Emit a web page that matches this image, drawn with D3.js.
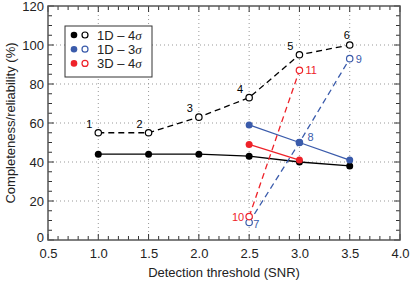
<!DOCTYPE html>
<html>
<head>
<meta charset="utf-8">
<script src="https://cdn.jsdelivr.net/npm/d3@7"></script>
<style>
  body { margin: 0; background: #fff; }
  text { font-family: "Liberation Sans", Arial, sans-serif; }
</style>
</head>
<body>
<div id="chart"></div>
<script>
var width  = 412;
var height = 282;

// data
var snr = [1.0, 1.5, 2.0, 2.5, 3.0, 3.5];
var rel1D4 = [55, 55, 63, 73, 95, 100];      // open, dashed
var comp1D4 = [44, 44, 44, 43, 40, 38];      // filled, solid
var labels1D4 = ["1", "2", "3", "4", "5", "6"];

var snr3 = [2.5, 3.0, 3.5];
var rel1D3 = [9, 50, 93];
var comp1D3 = [59, 50, 41];
var labels1D3 = ["7", "8", "9"];

var snr3D = [2.5, 3.0];
var rel3D4 = [12, 87];
var comp3D4 = [49, 41];
var labels3D4 = ["10", "11"];

var legendNames = ["1D \u2013 4", "1D \u2013 3", "3D \u2013 4"];
var xTicks = [0.5, 1.0, 1.5, 2.0, 2.5, 3.0, 3.5, 4.0];
var yTicks = [0, 20, 40, 60, 80, 100, 120];

var black = "#000", blue = "#3a5bab", red = "#ee2229";

var svg = d3.select("#chart").append("svg")
  .attr("width", width)
  .attr("height", height);

var x = d3.scaleLinear().domain([0.5, 4.0]).range([48, 400]);
var y = d3.scaleLinear().domain([0, 120]).range([240, 6]);

// grid
svg.selectAll(".gx").data(xTicks.slice(1, -1)).enter().append("line")
  .attr("x1", d => x(d)).attr("x2", d => x(d))
  .attr("y1", y(0)).attr("y2", y(120))
  .attr("stroke", "#999").attr("stroke-dasharray", "1,3");
svg.selectAll(".gy").data(yTicks.slice(1, -1)).enter().append("line")
  .attr("y1", d => y(d)).attr("y2", d => y(d))
  .attr("x1", x(0.5)).attr("x2", x(4.0))
  .attr("stroke", "#999").attr("stroke-dasharray", "1,3");

// minor / major ticks inside on all 4 sides
var xMinor = d3.range(5, 41).map(d => d / 10);
var yMinor = d3.range(0, 121, 5);
var tickCol = "#333";
xMinor.forEach(function(d) {
  var len = (Math.round(d * 10) % 5 === 0) ? 6 : 4;
  svg.append("line").attr("x1", x(d)).attr("x2", x(d))
    .attr("y1", y(0)).attr("y2", y(0) - len).attr("stroke", tickCol);
  svg.append("line").attr("x1", x(d)).attr("x2", x(d))
    .attr("y1", y(120)).attr("y2", y(120) + len).attr("stroke", tickCol);
});
yMinor.forEach(function(d) {
  var len = (d % 20 === 0) ? 6 : 4;
  svg.append("line").attr("y1", y(d)).attr("y2", y(d))
    .attr("x1", x(0.5)).attr("x2", x(0.5) + len).attr("stroke", tickCol);
  svg.append("line").attr("y1", y(d)).attr("y2", y(d))
    .attr("x1", x(4.0)).attr("x2", x(4.0) - len).attr("stroke", tickCol);
});

// frame
svg.append("rect")
  .attr("x", x(0.5)).attr("y", y(120))
  .attr("width", x(4.0) - x(0.5)).attr("height", y(0) - y(120))
  .attr("fill", "none").attr("stroke", "#555").attr("stroke-width", 1.5);

// axes labels via d3 axes (no lines)
var xAxis = svg.append("g").attr("transform", "translate(0," + y(0) + ")")
  .call(d3.axisBottom(x).tickValues(xTicks).tickFormat(d3.format(".1f")).tickSize(0).tickPadding(9));
var yAxis = svg.append("g").attr("transform", "translate(" + x(0.5) + ",0)")
  .call(d3.axisLeft(y).tickValues(yTicks).tickSize(0).tickPadding(4));
[xAxis, yAxis].forEach(function(g) {
  g.select(".domain").remove();
  g.selectAll("text").attr("font-size", 13).attr("fill", "#222")
    .attr("font-family", "Liberation Sans, Arial, sans-serif");
});
// the "0" sits just above the corner
yAxis.selectAll("text").filter(d => d === 0).attr("dy", "0.1em");

svg.append("text").attr("x", 224).attr("y", 277)
  .attr("text-anchor", "middle").attr("font-size", 13).attr("fill", "#222")
  .text("Detection threshold (SNR)");
svg.append("text")
  .attr("transform", "translate(15,123) rotate(-90)")
  .attr("text-anchor", "middle").attr("font-size", 13).attr("fill", "#222")
  .text("Completeness/reliability (%)");

var lineFn = function(xs) {
  return d3.line().x((d, i) => x(xs[i])).y(d => y(d));
};

function drawLines(xs, rel, comp, color) {
  svg.append("path").datum(comp).attr("d", lineFn(xs))
    .attr("fill", "none").attr("stroke", color).attr("stroke-width", 1.3);
  svg.append("path").datum(rel).attr("d", lineFn(xs))
    .attr("fill", "none").attr("stroke", color).attr("stroke-width", 1.3)
    .attr("stroke-dasharray", "6,4");
}

function drawOpen(xs, rel, labels, color, labelPos) {
  svg.selectAll(null).data(rel).enter().append("circle")
    .attr("cx", (d, i) => x(xs[i])).attr("cy", d => y(d)).attr("r", 3.2)
    .attr("fill", "#fff").attr("stroke", color).attr("stroke-width", 1.2);
  svg.selectAll(null).data(rel).enter().append("text")
    .attr("x", (d, i) => x(xs[i]) + labelPos[i][0])
    .attr("y", (d, i) => y(d) + labelPos[i][1])
    .attr("font-size", 11).attr("fill", color)
    .attr("text-anchor", (d, i) => labelPos[i][2] || "start")
    .text((d, i) => labels[i]);
}

function drawFilled(xs, comp, color) {
  svg.selectAll(null).data(comp).enter().append("circle")
    .attr("cx", (d, i) => x(xs[i])).attr("cy", d => y(d)).attr("r", 3.5)
    .attr("fill", color);
}

drawLines(snr, rel1D4, comp1D4, black);
drawLines(snr3, rel1D3, comp1D3, blue);
drawLines(snr3D, rel3D4, comp3D4, red);

drawOpen(snr, rel1D4, labels1D4, black,
  [[-6, -5, "end"], [-6, -5, "end"], [-6, -5, "end"], [-6, -5, "end"], [-6, -5, "end"], [-3, -6, "middle"]]);
drawOpen(snr3, rel1D3, labels1D3, blue, [[4, 6], [8, -2], [6, 4]]);
drawOpen(snr3D, rel3D4, labels3D4, red, [[-5, 4, "end"], [6, 4]]);

drawFilled(snr, comp1D4, black);
drawFilled(snr3, comp1D3, blue);
drawFilled(snr3D, comp3D4, red);

// legend
var lg = svg.append("g");
lg.append("rect").attr("x", 65).attr("y", 26).attr("width", 87).attr("height", 51)
  .attr("fill", "#fff").attr("stroke", "#333").attr("stroke-width", 1);
var legendColors = [black, blue, red];
var legendSigma = ["\u03c3", "\u03c3", "\u03c3"];
legendNames.forEach(function(name, i) {
  var cy = 35 + i * 14.2;
  lg.append("circle").attr("cx", 74).attr("cy", cy).attr("r", 3.3).attr("fill", legendColors[i]);
  lg.append("circle").attr("cx", 85).attr("cy", cy).attr("r", 3)
    .attr("fill", "#fff").attr("stroke", legendColors[i]).attr("stroke-width", 1.2);
  var t = lg.append("text").attr("x", 97).attr("y", cy + 4.5)
    .attr("font-size", 13).attr("fill", "#222").text(name);
  t.append("tspan").attr("font-style", "italic")
    .attr("font-family", "Liberation Serif, serif").text(legendSigma[i]);
});
</script>
</body>
</html>
